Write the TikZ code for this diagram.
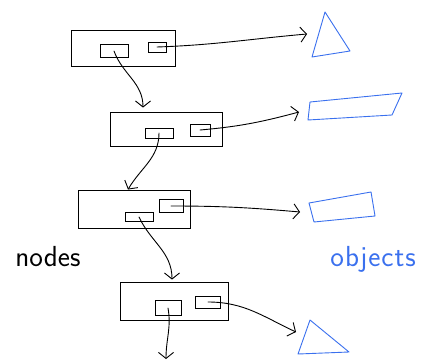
\documentclass[tikz,border=0pt]{standalone}
\usetikzlibrary{arrows.meta,calc}
\definecolor{inkblue}{RGB}{58,112,238}

\begin{document}
\begin{tikzpicture}[x=1pt,y=1pt,line width=0.9pt,line cap=round,
  box/.style={draw,rectangle,inner sep=0pt},
  link/.style={-{Straight Barb[length=6pt,width=15pt]}},
  obj/.style={draw=inkblue,line join=round},
  hand/.style={font=\sffamily\fontsize{29}{29}\selectfont,anchor=base west,inner sep=0pt}]

\useasboundingbox (0,0) rectangle (425,-362);

% list nodes
\node[box,minimum width=104,minimum height=36](n1) at (123,-48) {};
\node[box,minimum width=28,minimum height=13](n1a) at (114,-51) {};
\node[box,minimum width=18,minimum height=10](n1b) at (157,-47) {};

\node[box,minimum width=112,minimum height=34](n2) at (166,-129) {};
\node[box,minimum width=28,minimum height=10](n2a) at (159,-133) {};
\node[box,minimum width=20,minimum height=12](n2b) at (200,-130) {};

\node[box,minimum width=112,minimum height=38](n3) at (134,-209) {};
\node[box,minimum width=28,minimum height=9](n3a) at (139,-217) {};
\node[box,minimum width=24,minimum height=13](n3b) at (171,-206) {};

\node[box,minimum width=108,minimum height=38](n4) at (174,-301) {};
\node[box,minimum width=26,minimum height=15](n4a) at (168,-308) {};
\node[box,minimum width=25,minimum height=12](n4b) at (208,-302) {};

% objects
\draw[obj] (325,-12) -- (312,-57) -- (350,-51) -- cycle;
\draw[obj] (310,-102) -- (402,-93) -- (392,-115) -- (308,-120) -- cycle;
\draw[obj] (309,-203) -- (371,-192) -- (375,-216) -- (314,-222) -- cycle;
\draw[obj] (310,-320) -- (298,-354) -- (349,-352) -- cycle;

\coordinate (o1) at (307,-34);
\coordinate (o2) at (299,-112);
\coordinate (o3) at (300,-212);
\coordinate (o4) at (296,-332);
\coordinate (tail) at (166,-359);

% value pointers
\foreach \from/\to/\a/\b in {n1b/o1/2/185, n2b/o2/5/195, n3b/o3/0/175, n4b/o4/0/155}
    \draw[link] (\from.center) to[out=\a,in=\b] (\to);

% next pointers
\draw[link] (n1a.center) to[out=-70,in=90] ($(n2.north)+(-23,4)$);
\draw[link] (n2a.center) to[out=-90,in=60] ($(n3.north)+(-6,0)$);
\draw[link] (n3a.center) to[out=-65,in=90] ($(n4.north)+(-2,2)$);
\draw[link] (n4a.center) to[out=-80,in=90] (tail);

\node[hand](nodes) at (15,-266) {nodes};
\node[hand,text=inkblue](objects) at (330,-266) {o\kern1pt b\kern1pt j\kern1pt e\kern1pt c\kern1pt t\kern1pt s};

\end{tikzpicture}
\end{document}
